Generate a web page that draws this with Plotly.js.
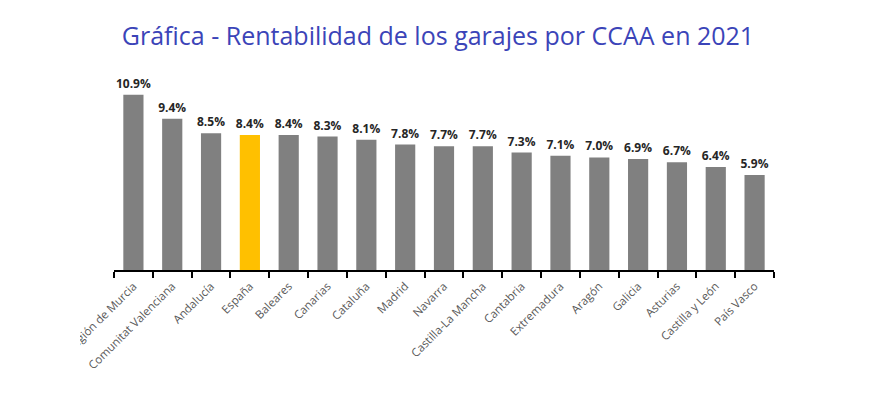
<!DOCTYPE html>
<html>
<head>
<meta charset="utf-8">
<script src="https://cdn.plot.ly/plotly-3.0.1.min.js"></script>
<style>html,body{margin:0;padding:0;background:#fff;}#chart{width:876px;height:398px;}</style>
</head>
<body>
<div id="chart"></div>
<script>
const categories = ["Región de Murcia","Comunitat Valenciana","Andalucía","España","Baleares","Canarias","Cataluña","Madrid","Navarra","Castilla-La Mancha","Cantabria","Extremadura","Aragón","Galicia","Asturias","Castilla y León","País Vasco"];
const values = [10.9, 9.4, 8.5, 8.4, 8.4, 8.3, 8.1, 7.8, 7.7, 7.7, 7.3, 7.1, 7.0, 6.9, 6.7, 6.4, 5.9];
const labels = values.map(v => v.toFixed(1) + "%");
const colors = categories.map(c => c === "España" ? "#FFC000" : "#808080");

Plotly.newPlot("chart", [{
  type: "bar",
  x: categories,
  y: values,
  text: labels,
  textposition: "outside",
  constraintext: "none",
  cliponaxis: false,
  textfont: {family: "Open Sans", size: 12, color: "#262626", weight: "bold"},
  marker: {color: colors, line: {width: 0}},
  width: 0.52,
  hoverinfo: "x+y"
}], {
  width: 876, height: 398,
  margin: {l: 114, r: 102, t: 77, b: 128},
  paper_bgcolor: "#fff", plot_bgcolor: "#fff",
  title: {text: "Gráfica - Rentabilidad de los garajes por CCAA en 2021", x: 0.5, xanchor: "center", y: 0.91, yanchor: "middle",
    font: {family: "Open Sans", size: 25, color: "#3b44b8"}},
  xaxis: {
    type: "category",
    range: [-0.5, 16.5],
    tickangle: -45,
    tickson: "boundaries",
    ticks: "outside", ticklen: 6, tickwidth: 2, tickcolor: "#000",
    ticklabelstandoff: 3,
    showline: true, linecolor: "#000", linewidth: 2,
    tickfont: {family: "Open Sans", size: 11.5, color: "#595959"},
    showgrid: false, zeroline: false, fixedrange: true
  },
  yaxis: {
    range: [0, 12],
    visible: false,
    showgrid: false, zeroline: false, fixedrange: true
  },
  shapes: [{type: "rect", layer: "above", xref: "paper", yref: "paper",
    x0: -0.18, x1: -0.0515, y0: -0.7, y1: -0.02,
    fillcolor: "#ffffff", line: {width: 0}}],
  showlegend: false,
  bargap: 0.48
}, {displayModeBar: false, staticPlot: true});
</script>
</body>
</html>
